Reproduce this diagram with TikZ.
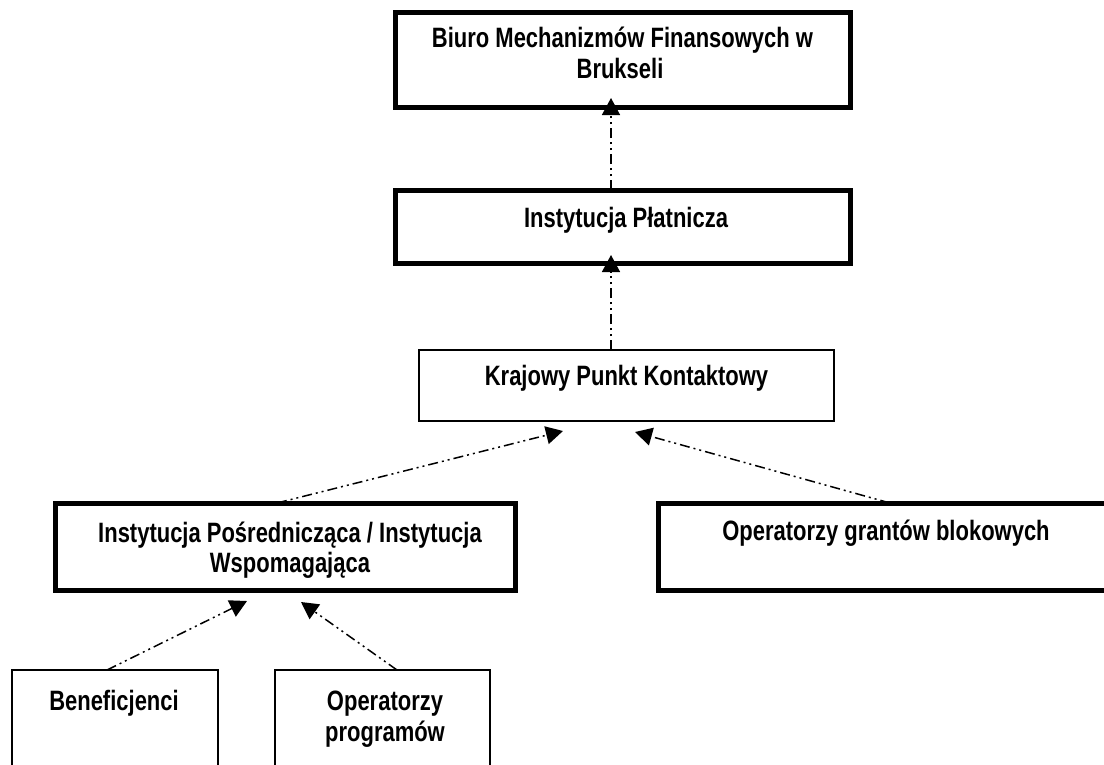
\documentclass[tikz,border=0pt]{standalone}
\usepackage{fontspec}
\setmainfont{Liberation Sans}[FakeStretch=0.785]
\usetikzlibrary{arrows.meta}
\tikzset{
  thickbox/.style={draw=black, line width=5pt, fill=white, inner sep=0pt, outer sep=0pt},
  thinbox/.style={draw=black, line width=2pt, fill=white, inner sep=0pt, outer sep=0pt},
  txt/.style={anchor=base, inner sep=0pt, font=\bfseries\fontsize{28}{30}\selectfont},
  conn/.style={line width=1.5pt, dash pattern=on 10pt off 4pt on 2pt off 4pt on 2pt off 4pt,
    -{Triangle[length=17pt,width=18pt]}}
}
\begin{document}
\begin{tikzpicture}[x=1pt,y=-1pt]
\useasboundingbox (0,0) rectangle (1104,764);
\clip (0,0) rectangle (1104,764);
% boxes
\node[thickbox, minimum width=455pt, minimum height=95pt] (b1) at (622.5,59.5) {};
\node[thickbox, minimum width=455pt, minimum height=73pt] (b2) at (622.5,226.5) {};
\node[thinbox, minimum width=415pt, minimum height=71pt] (b3) at (626.5,385.5) {};
\node[thickbox, minimum width=460pt, minimum height=87pt] (b4) at (285,546.5) {};
\node[thickbox, minimum width=452pt, minimum height=87pt] (b5) at (884,546.5) {};
\node[thinbox, minimum width=206pt, minimum height=130pt] (b6) at (115,735) {};
\node[thinbox, minimum width=215pt, minimum height=130pt] (b7) at (382.5,735) {};
% texts
\node[txt] (t1a) at (622.5,47) {Biuro Mechanizmów Finansowych w};
\node[txt] (t1b) at (620,78) {Brukseli};
\node[txt] (t2) at (626,227) {Instytucja Płatnicza};
\node[txt] (t3) at (626.5,385) {Krajowy Punkt Kontaktowy};
\node[txt] (t4a) at (290,542) {Instytucja Pośrednicząca / Instytucja};
\node[txt] (t4b) at (290,572) {Wspomagająca};
\node[txt] (t5) at (886,540) {Operatorzy grantów blokowych};
\node[txt] (t6) at (114,710) {Beneficjenci};
\node[txt] (t7a) at (385,710) {Operatorzy};
\node[txt] (t7b) at (385,741) {programów};
% connectors
\draw[conn] ([xshift=-11.5pt]b2.north) -- ([xshift=-11.5pt,yshift=9pt]b1.south);
\draw[conn] ([xshift=-15.5pt]b3.north) -- ([xshift=-11.5pt,yshift=8pt]b2.south);
\draw[conn] ([xshift=-8pt]b4.north) -- ([xshift=-63.5pt,yshift=-10pt]b3.south);
\draw[conn] ([xshift=6pt]b5.north) -- ([xshift=8.5pt,yshift=-11pt]b3.south);
\draw[conn] ([xshift=-8pt]b6.north) -- ([xshift=-38pt,yshift=-11pt]b4.south);
\draw[conn] ([xshift=14.5pt]b7.north) -- ([xshift=16pt,yshift=-12pt]b4.south);
\end{tikzpicture}
\end{document}
